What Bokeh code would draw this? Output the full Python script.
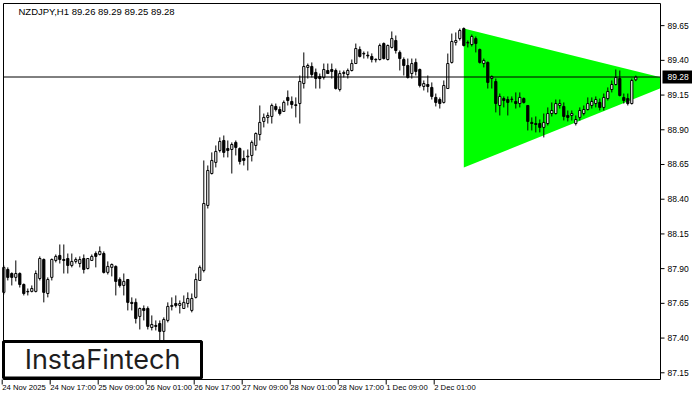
from bokeh.plotting import figure
from bokeh.models import ColumnDataSource, Range1d
from bokeh.core.properties import value
from bokeh.embed import file_html
from bokeh.resources import INLINE

symbol_title = "NZDJPY,H1  89.26 89.29 89.25 89.28"

opens = [
    87.729, 87.894, 87.865, 87.837, 87.865, 87.786, 87.736, 87.736, 87.736, 87.829,
    87.966, 87.721, 87.837, 87.959, 87.995, 87.966, 87.973, 87.923, 87.952, 87.937,
    87.973, 87.901, 87.959, 88.009, 88.002, 88.009, 87.873, 87.909, 87.916, 87.822,
    87.779, 87.822, 87.657, 87.657, 87.556, 87.613, 87.613, 87.476, 87.491, 87.505,
    87.448, 87.527, 87.628, 87.649, 87.635, 87.613, 87.649, 87.599, 87.693, 87.815,
    87.887, 88.355, 88.585, 88.665, 88.751, 88.823, 88.765, 88.758, 88.809, 88.765,
    88.693, 88.705, 88.715, 88.787, 88.866, 88.960, 88.989, 88.996, 89.068, 89.046,
    89.032, 89.133, 89.104, 89.080, 89.089, 89.233, 89.349, 89.356, 89.313, 89.284,
    89.277, 89.327, 89.334, 89.327, 89.190, 89.305, 89.298, 89.327, 89.377, 89.478,
    89.446, 89.437, 89.428, 89.408, 89.406, 89.521, 89.406, 89.493, 89.543, 89.457,
    89.406, 89.363, 89.305, 89.385, 89.334, 89.212, 89.226, 89.205, 89.133, 89.118,
    89.097, 89.197, 89.385, 89.529, 89.557, 89.629, 89.524, 89.514, 89.557, 89.478,
    89.377, 89.385, 89.269, 89.248, 89.075, 89.125, 89.118, 89.118, 89.104, 89.089,
    89.125, 89.075, 88.953, 88.945, 88.945, 88.917, 88.945, 89.017, 89.017, 89.075,
    89.068, 89.003, 89.003, 88.945, 88.989, 89.017, 89.046, 89.075, 89.089, 89.097,
    89.061, 89.125, 89.190, 89.226, 89.269, 89.133, 89.125, 89.089, 89.260,
]

highs = [
    87.923, 87.909, 87.873, 87.959, 87.873, 87.793, 87.757, 87.779, 87.887, 87.988,
    87.973, 87.837, 87.973, 88.002, 88.074, 88.074, 88.009, 88.009, 87.981, 87.988,
    88.002, 87.973, 88.002, 88.024, 88.060, 88.024, 87.952, 87.937, 87.923, 87.837,
    87.865, 87.822, 87.693, 87.685, 87.620, 87.635, 87.628, 87.563, 87.527, 87.527,
    87.549, 87.657, 87.693, 87.707, 87.671, 87.707, 87.729, 87.721, 87.865, 87.923,
    88.679, 88.643, 88.737, 88.787, 88.845, 88.859, 88.823, 88.809, 88.823, 88.773,
    88.751, 88.758, 88.823, 88.881, 89.075, 89.017, 89.025, 89.089, 89.089, 89.068,
    89.111, 89.183, 89.140, 89.133, 89.291, 89.457, 89.377, 89.385, 89.341, 89.305,
    89.377, 89.377, 89.377, 89.341, 89.327, 89.327, 89.341, 89.406, 89.521, 89.500,
    89.464, 89.464, 89.450, 89.413, 89.521, 89.529, 89.514, 89.608, 89.579, 89.471,
    89.421, 89.413, 89.413, 89.413, 89.341, 89.255, 89.291, 89.241, 89.161, 89.133,
    89.255, 89.449, 89.593, 89.601, 89.629, 89.637, 89.543, 89.586, 89.572, 89.485,
    89.413, 89.392, 89.291, 89.269, 89.161, 89.140, 89.140, 89.140, 89.169, 89.169,
    89.133, 89.075, 88.989, 88.996, 88.974, 89.017, 89.061, 89.097, 89.118, 89.118,
    89.097, 89.039, 89.039, 89.003, 89.061, 89.075, 89.133, 89.133, 89.140, 89.125,
    89.161, 89.205, 89.255, 89.334, 89.327, 89.161, 89.161, 89.269, 89.290,
]

lows = [
    87.714, 87.815, 87.779, 87.808, 87.764, 87.707, 87.707, 87.729, 87.729, 87.815,
    87.657, 87.693, 87.815, 87.945, 87.937, 87.865, 87.865, 87.909, 87.937, 87.909,
    87.865, 87.894, 87.959, 87.909, 87.995, 87.865, 87.858, 87.844, 87.707, 87.764,
    87.707, 87.599, 87.599, 87.505, 87.462, 87.527, 87.462, 87.455, 87.455, 87.383,
    87.383, 87.513, 87.599, 87.620, 87.577, 87.613, 87.620, 87.585, 87.685, 87.815,
    87.873, 88.333, 88.578, 88.629, 88.737, 88.701, 88.701, 88.585, 88.715, 88.650,
    88.643, 88.607, 88.672, 88.751, 88.823, 88.917, 88.945, 88.945, 89.032, 89.003,
    89.032, 89.075, 89.053, 88.989, 88.945, 89.197, 89.269, 89.277, 89.197, 89.197,
    89.262, 89.305, 89.269, 89.190, 89.176, 89.277, 89.269, 89.320, 89.377, 89.421,
    89.413, 89.413, 89.385, 89.385, 89.399, 89.406, 89.399, 89.485, 89.449, 89.327,
    89.291, 89.269, 89.269, 89.291, 89.205, 89.183, 89.169, 89.118, 89.068, 89.053,
    89.089, 89.197, 89.377, 89.507, 89.543, 89.500, 89.493, 89.500, 89.457, 89.377,
    89.349, 89.197, 89.197, 89.025, 89.003, 89.061, 89.003, 89.097, 89.053, 89.061,
    89.089, 88.895, 88.895, 88.881, 88.881, 88.845, 88.931, 88.996, 89.010, 89.053,
    88.967, 88.960, 88.967, 88.931, 88.967, 89.003, 89.039, 89.053, 89.061, 89.039,
    89.039, 89.111, 89.169, 89.219, 89.140, 89.089, 89.075, 89.082, 89.250,
]

closes = [
    87.909, 87.837, 87.837, 87.865, 87.786, 87.721, 87.733, 87.757, 87.865, 87.973,
    87.729, 87.822, 87.966, 87.988, 87.966, 87.959, 87.923, 87.952, 87.966, 87.966,
    87.894, 87.973, 87.988, 87.988, 88.024, 87.873, 87.916, 87.930, 87.808, 87.779,
    87.808, 87.657, 87.649, 87.541, 87.613, 87.599, 87.484, 87.498, 87.484, 87.448,
    87.534, 87.628, 87.635, 87.635, 87.649, 87.657, 87.685, 87.685, 87.822, 87.909,
    88.369, 88.607, 88.679, 88.744, 88.816, 88.737, 88.751, 88.794, 88.773, 88.672,
    88.679, 88.710, 88.809, 88.873, 88.953, 88.989, 89.003, 89.075, 89.046, 89.017,
    89.097, 89.111, 89.082, 89.075, 89.248, 89.356, 89.363, 89.298, 89.269, 89.269,
    89.334, 89.305, 89.320, 89.197, 89.305, 89.313, 89.327, 89.377, 89.485, 89.428,
    89.450, 89.432, 89.406, 89.404, 89.507, 89.413, 89.507, 89.557, 89.471, 89.413,
    89.363, 89.277, 89.377, 89.320, 89.219, 89.233, 89.212, 89.140, 89.097, 89.089,
    89.219, 89.377, 89.536, 89.543, 89.615, 89.507, 89.529, 89.572, 89.521, 89.385,
    89.399, 89.241, 89.284, 89.089, 89.140, 89.111, 89.097, 89.121, 89.089, 89.133,
    89.097, 88.960, 88.945, 88.938, 88.917, 88.953, 89.017, 89.039, 89.089, 89.089,
    88.996, 88.989, 89.017, 88.974, 89.039, 89.046, 89.089, 89.104, 89.118, 89.061,
    89.133, 89.176, 89.226, 89.277, 89.147, 89.111, 89.089, 89.255, 89.280,
]

# symmetrical triangle pattern (bar index, price)
pattern_x = [115, 115, 168.4]
pattern_y = [89.629, 88.628, 89.248]

tick_bars = [0, 12, 24, 36, 48, 60, 72, 84, 96, 108]
tick_labels = ["24 Nov 2025", "24 Nov 17:00", "25 Nov 09:00", "26 Nov 01:00",
               "26 Nov 17:00", "27 Nov 09:00", "28 Nov 01:00", "28 Nov 17:00",
               "1 Dec 09:00", "2 Dec 01:00"]
price_ticks = [87.15, 87.40, 87.65, 87.90, 88.15, 88.40, 88.65, 88.90, 89.15, 89.40, 89.65]
last_price = 89.28
logo_text = "InstaFintech"

# ---------------- layout (canvas pixels -> data) ----------------
W, H = 692, 392
BAR_PX = 4.0          # pixels per bar
BAR0_PX = 3.3         # x pixel of bar 0
PX_PER_UNIT = 138.86  # pixels per 1.00 of price
PRICE_AT_TOP = 89.831 # price at canvas y = 0


def px_x(px):
    return (px - BAR0_PX) / BAR_PX


def px_y(py):
    return PRICE_AT_TOP - py / PX_PER_UNIT


AREA_L, AREA_R, AREA_T, AREA_B = px_x(3), px_x(660), px_y(3), px_y(379)

p = figure(width=W, height=H, output_backend="svg", toolbar_location=None, tools="",
           x_range=Range1d(px_x(0), px_x(W)), y_range=Range1d(px_y(H), px_y(0)),
           x_axis_location=None, y_axis_location=None,
           min_border_left=0, min_border_right=0, min_border_top=0, min_border_bottom=0)
p.background_fill_color = "white"
p.border_fill_color = "white"
p.outline_line_color = None
p.xgrid.visible = False
p.ygrid.visible = False

# triangle, clipped at the right edge of the chart area
tx0, tx1 = pattern_x[0], pattern_x[2]
t_top, t_bot, t_apex = pattern_y[0], pattern_y[1], pattern_y[2]
frac = (AREA_R - tx0) / (tx1 - tx0)
clip_x = [tx0, AREA_R, AREA_R, tx0]
clip_y = [t_top, t_top + (t_apex - t_top) * frac, t_bot + (t_apex - t_bot) * frac, t_bot]
p.patch(clip_x, clip_y, fill_color="#00FF00", line_color=None)

# candles
n = len(opens)
idx = list(range(n))
tops = [max(o, c) for o, c in zip(opens, closes)]
bots = [min(o, c) for o, c in zip(opens, closes)]
fills = ["white" if c >= o else "black" for o, c in zip(opens, closes)]
src = ColumnDataSource(dict(i=idx, h=highs, l=lows, top=tops, bottom=bots, fill=fills))
p.segment(x0="i", y0="l", x1="i", y1="h", source=src, line_color="black", line_width=1)
p.vbar(x="i", width=0.55, top="top", bottom="bottom", fill_color="fill",
       line_color="black", line_width=1, source=src)

# current price line
p.segment(x0=[AREA_L], y0=[last_price], x1=[AREA_R], y1=[last_price],
          line_color="black", line_width=1)

# chart area border
p.quad(left=[AREA_L], right=[AREA_R], top=[AREA_T], bottom=[AREA_B],
       fill_color=None, line_color="black", line_width=1)

# right price scale
p.segment(x0=[AREA_R] * len(price_ticks), y0=price_ticks,
          x1=[px_x(664)] * len(price_ticks), y1=price_ticks, line_color="black", line_width=1)
p.text(x=[px_x(667)] * len(price_ticks), y=price_ticks,
       text=[f"{v:.2f}" for v in price_ticks], text_align="left", text_baseline="middle",
       text_color="black", text_font=value("Liberation Sans"), text_font_size="8.5px")

# current price box
p.quad(left=[px_x(662)], right=[px_x(693)], top=[last_price + 6.5 / PX_PER_UNIT],
       bottom=[last_price - 6.5 / PX_PER_UNIT], fill_color="black", line_color=None)
p.text(x=[px_x(667)], y=[last_price], text=[f"{last_price:.2f}"], text_align="left",
       text_baseline="middle", text_color="white", text_font=value("Liberation Sans"),
       text_font_size="8.5px")

# time scale
tick_x = [b - 0.4 for b in tick_bars]
p.segment(x0=tick_x, y0=[AREA_B] * len(tick_x), x1=tick_x, y1=[px_y(384)] * len(tick_x),
          line_color="black", line_width=1)
p.text(x=tick_x, y=[px_y(382.5)] * len(tick_x), text=tick_labels, text_align="left",
       text_baseline="top", text_color="black",
       text_font=value("Liberation Sans"), text_font_size="7.7px")

# title
p.text(x=[px_x(18)], y=[px_y(11)], text=[symbol_title], text_align="left",
       text_baseline="middle", text_color="black",
       text_font=value("Liberation Sans"), text_font_size="9.5px")

# logo
p.quad(left=[px_x(3)], right=[px_x(201)], top=[px_y(341)], bottom=[px_y(377.5)],
       fill_color="white", line_color="black", line_width=3)
p.text(x=[px_x(102)], y=[px_y(359)], text=[logo_text], text_align="center",
       text_baseline="middle", text_color="#1e1e1e",
       text_font=value("Inter"), text_font_size="27px")

open("out.html", "w").write(file_html(p, INLINE))
